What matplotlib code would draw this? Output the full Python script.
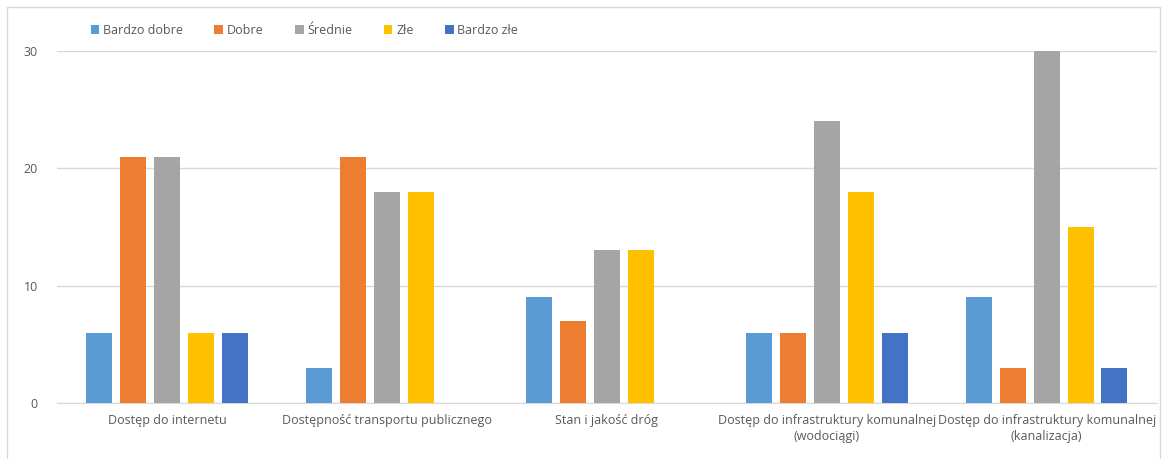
import numpy as np
import matplotlib
matplotlib.use("Agg")
import matplotlib.pyplot as plt
from matplotlib.patches import Rectangle

plt.rcParams['font.family'] = ['Open Sans', 'DejaVu Sans']

categories = ["Dostęp do internetu",
              "Dostępność transportu publicznego",
              "Stan i jakość dróg",
              "Dostęp do infrastruktury komunalnej\n(wodociągi)",
              "Dostęp do infrastruktury komunalnej\n(kanalizacja)"]
series = ["Bardzo dobre", "Dobre", "Średnie", "Złe", "Bardzo złe"]
bardzo_dobre = [6, 3, 9, 6, 9]
dobre = [21, 21, 7, 6, 3]
srednie = [21, 18, 13, 24, 30]
zle = [6, 18, 13, 18, 15]
bardzo_zle = [6, 0, 0, 6, 3]
colors = ["#5B9BD5", "#ED7D31", "#A5A5A5", "#FFC000", "#4472C4"]

values = [bardzo_dobre, dobre, srednie, zle, bardzo_zle]
text_color = "#595959"

fig = plt.figure(figsize=(11.66, 4.59), dpi=100)
ax = fig.add_axes([0.049, 0.122, 0.943, 0.767])

x = np.arange(len(categories))
pitch = 0.154
width = 0.118
for i, (name, vals) in enumerate(zip(series, values)):
    ax.bar(x + (i - 2) * pitch, vals, width, color=colors[i], label=name, zorder=3)

ax.set_xlim(-0.5, len(categories) - 0.5)
ax.set_ylim(0, 30)
ax.set_yticks([0, 10, 20, 30])
ax.yaxis.grid(True, color="#D9D9D9", linewidth=1, zorder=0)
for s in ["top", "right", "left"]:
    ax.spines[s].set_visible(False)
ax.spines["bottom"].set_color("#D9D9D9")
ax.set_xticks(x)
ax.set_xticklabels(categories, fontsize=9, color=text_color, linespacing=1.3)
ax.tick_params(axis="both", length=0, labelsize=9, labelcolor=text_color)
ax.tick_params(axis="x", pad=8)
ax.tick_params(axis="y", pad=14)

leg = fig.legend(loc="center left", bbox_to_anchor=(0.068, 0.934), ncol=5,
                 frameon=False, fontsize=9, handlelength=0.7, handleheight=0.7,
                 handletextpad=0.3, columnspacing=2.5, labelcolor=text_color)

fig.patches.append(Rectangle((7 / 1166, -0.05), 1153 / 1166, 1.05 - 7 / 459,
                             transform=fig.transFigure, fill=False,
                             edgecolor="#D9D9D9", linewidth=1))

fig.savefig("out.png", dpi=100)
